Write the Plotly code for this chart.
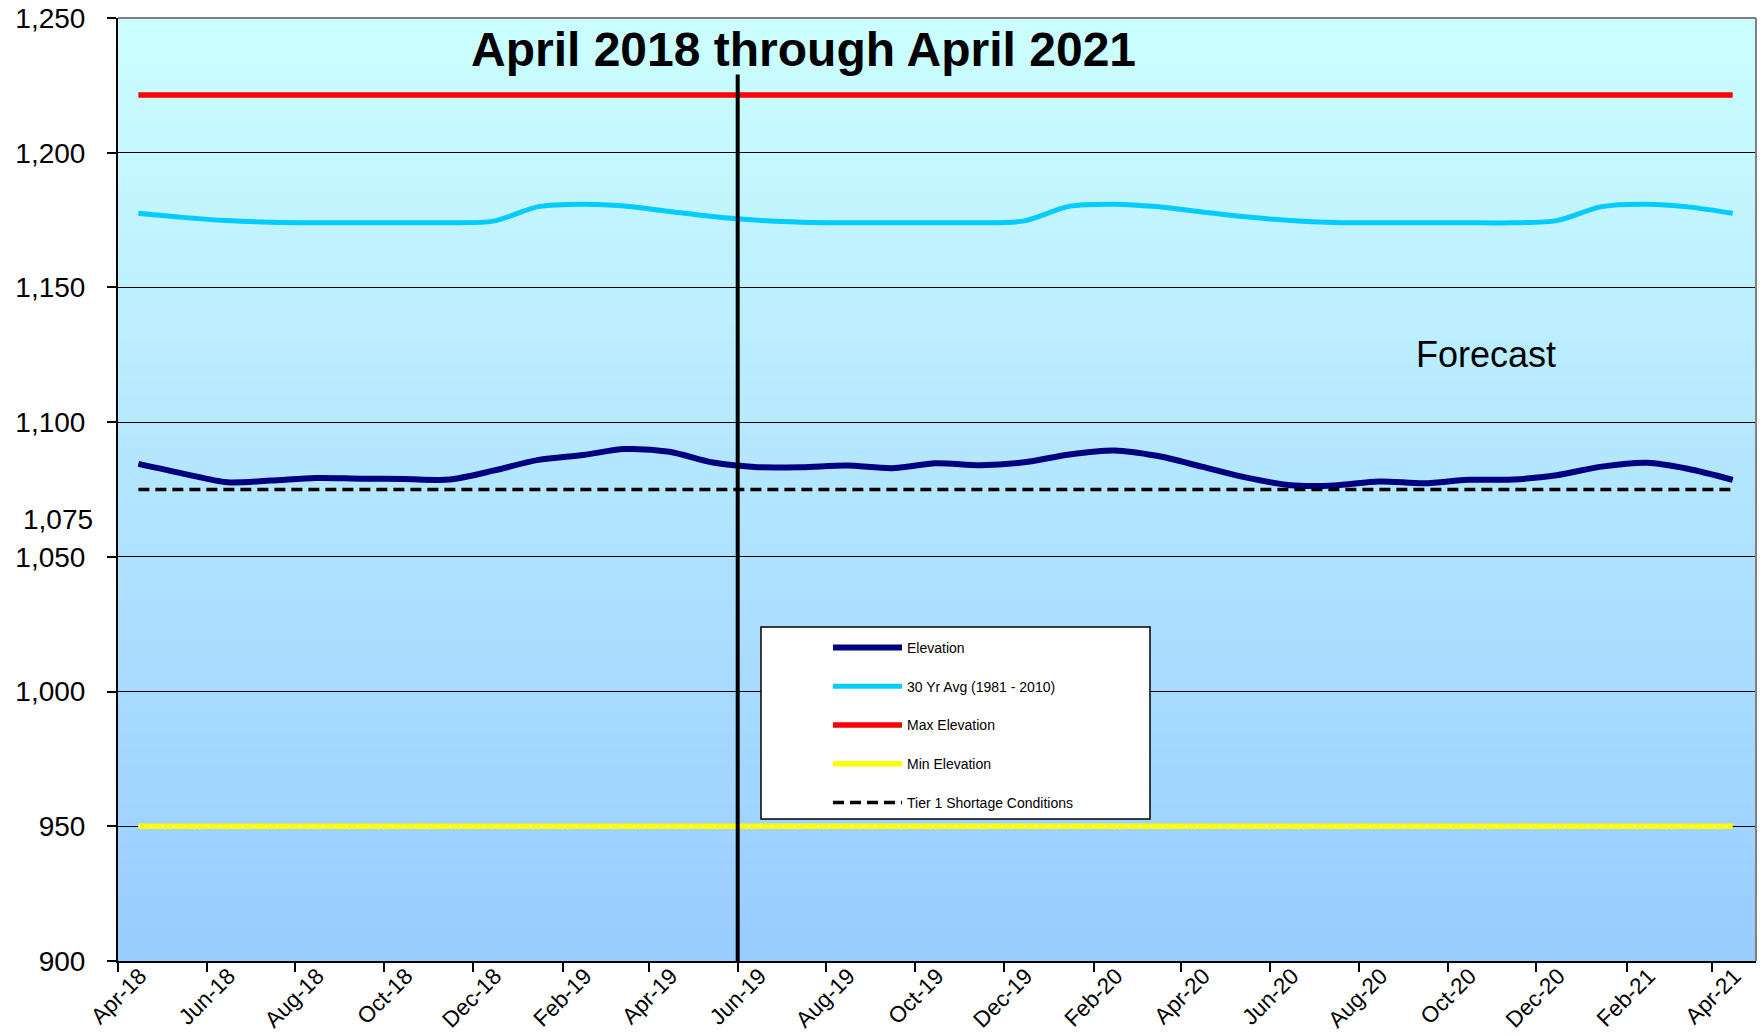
import plotly.graph_objects as go

# ---------------- data ----------------
months = [
    "2018-04-15", "2018-05-15", "2018-06-15", "2018-07-15", "2018-08-15", "2018-09-15",
    "2018-10-15", "2018-11-15", "2018-12-15", "2019-01-15", "2019-02-15", "2019-03-15",
    "2019-04-15", "2019-05-15", "2019-06-15", "2019-07-15", "2019-08-15", "2019-09-15",
    "2019-10-15", "2019-11-15", "2019-12-15", "2020-01-15", "2020-02-15", "2020-03-15",
    "2020-04-15", "2020-05-15", "2020-06-15", "2020-07-15", "2020-08-15", "2020-09-15",
    "2020-10-15", "2020-11-15", "2020-12-15", "2021-01-15", "2021-02-15", "2021-03-15",
    "2021-04-15",
]

elevation = [
    1084.5, 1081.0, 1077.7, 1078.3, 1079.3, 1079.0, 1078.9, 1078.7, 1082.0, 1086.0,
    1087.8, 1090.0, 1089.0, 1085.0, 1083.3, 1083.3, 1083.9, 1082.9, 1084.7, 1084.0,
    1085.1, 1088.0, 1089.5, 1087.5, 1083.5, 1079.5, 1076.6, 1076.5, 1078.0, 1077.3,
    1078.6, 1078.7, 1080.3, 1083.5, 1084.9, 1082.7, 1078.6,
]

avg_30yr = [
    1177.5, 1176.0, 1174.8, 1174.2, 1174.0, 1174.0, 1174.0, 1174.0, 1174.6, 1180.0,
    1180.9, 1180.2, 1178.2, 1176.3, 1174.9, 1174.2, 1174.0, 1174.0, 1174.0, 1174.0,
    1174.7, 1180.1, 1180.9, 1180.0, 1178.0, 1176.2, 1174.8, 1174.1, 1174.0, 1174.0,
    1174.0, 1174.0, 1174.8, 1180.0, 1180.9, 1179.9, 1177.5,
]

max_elevation = 1221.4
min_elevation = 950
tier1_shortage = 1075

divider_date = "2019-06-01"
divider_range = [900, 1229]

y_tick_vals = [900, 950, 1000, 1050, 1100, 1150, 1200, 1250]
y_tick_text = ["900", "950", "1,000", "1,050", "1,100", "1,150", "1,200", "1,250"]
extra_label_value = 1064
extra_label_text = "1,075"

title_text = "April 2018 through April 2021"
forecast_text = "Forecast"

# ---------------- styling ----------------
FONT = "Liberation Sans, Arial, sans-serif"
W, H = 1762, 1036
ML, MR, MT, MB = 118, 6, 18, 75

fig = go.Figure()

fig.add_trace(go.Scatter(
    x=months, y=elevation, mode="lines", name="Elevation",
    line=dict(color="#000080", width=6, shape="spline", smoothing=0.8),
    legendgroup="g1",
))
fig.add_trace(go.Scatter(
    x=months, y=avg_30yr, mode="lines", name="30 Yr Avg (1981 - 2010)",
    line=dict(color="#00CCFF", width=5, shape="spline", smoothing=0.8),
    legendgroup="g2",
))
fig.add_trace(go.Scatter(
    x=months, y=[max_elevation] * len(months), mode="lines", name="Max Elevation",
    line=dict(color="#FF0000", width=5.5),
    legendgroup="g3",
))
fig.add_trace(go.Scatter(
    x=months, y=[min_elevation] * len(months), mode="lines", name="Min Elevation",
    line=dict(color="#FFFF00", width=5.5),
    legendgroup="g4",
))
fig.add_trace(go.Scatter(
    x=months, y=[min_elevation] * len(months), mode="lines", showlegend=False,
    line=dict(color="#FFFFE0", width=1.5, dash="2px,9.5px"),
    legendgroup="g4", hoverinfo="skip",
))
fig.add_trace(go.Scatter(
    x=months, y=[tier1_shortage] * len(months), mode="lines",
    name="Tier 1 Shortage Conditions",
    line=dict(color="#000000", width=3.5, dash="11px,6px"),
    legendgroup="g5",
))
fig.add_trace(go.Scatter(
    x=[divider_date, divider_date], y=divider_range, mode="lines", showlegend=False,
    line=dict(color="#000000", width=4), hoverinfo="skip",
))

# gradient background (decorative)
shapes = []
n = 120
top = (204, 255, 255)
bot = (153, 204, 255)
for k in range(n):
    t = (k + 0.5) / n
    c = tuple(round(top[j] + (bot[j] - top[j]) * t) for j in range(3))
    shapes.append(dict(
        type="rect", xref="x domain", yref="y domain",
        x0=0, x1=1, y0=1 - (k + 1) / n - 0.001, y1=1 - k / n,
        fillcolor="rgb(%d,%d,%d)" % c, line=dict(width=0), layer="below",
    ))
# top/right gray border
shapes.append(dict(type="line", xref="x domain", yref="y domain", x0=0, x1=1, y0=1, y1=1,
                   line=dict(color="#808080", width=2), layer="above"))
shapes.append(dict(type="line", xref="x domain", yref="y domain", x0=1, x1=1, y0=0, y1=1,
                   line=dict(color="#808080", width=2), layer="above"))
# legend box
pw = W - ML - MR
ph = H - MT - MB
def px_x(p):
    return (p - ML) / pw
def px_y(p):
    return (H - MB - p) / ph
shapes.append(dict(type="rect", xref="paper", yref="paper",
                   x0=px_x(761), x1=px_x(1150), y0=px_y(819), y1=px_y(627),
                   fillcolor="white", line=dict(color="black", width=1.5), layer="above"))

annotations = [
    dict(text="<b>%s</b>" % title_text, xref="paper", yref="paper",
         x=px_x(803), y=px_y(49), xanchor="center", yanchor="middle", showarrow=False,
         font=dict(family=FONT, size=48, color="black")),
    dict(text=forecast_text, xref="paper", yref="paper",
         x=px_x(1486), y=px_y(354), xanchor="center", yanchor="middle", showarrow=False,
         font=dict(family=FONT, size=36, color="black")),
    dict(text=extra_label_text, xref="paper", yref="y",
         x=px_x(95), y=extra_label_value, xanchor="right", yanchor="middle", showarrow=False,
         font=dict(family=FONT, size=28, color="black")),
]

fig.update_layout(
    width=W, height=H,
    margin=dict(l=ML, r=MR, t=MT, b=MB, autoexpand=False),
    paper_bgcolor="white",
    plot_bgcolor="#B3E5FF",
    shapes=shapes,
    annotations=annotations,
    showlegend=True,
    legend=dict(
        x=px_x(828), y=px_y(632), xanchor="left", yanchor="top",
        bgcolor="rgba(0,0,0,0)", borderwidth=0,
        font=dict(family=FONT, size=14, color="black"),
        tracegroupgap=17.5, itemwidth=69, traceorder="grouped",
    ),
    xaxis=dict(
        type="date", range=["2018-04-01", "2021-05-01"], automargin=False,
        tick0="2018-04-01", dtick="M2", tickformat="%b-%y",
        tickangle=-45, ticks="outside", ticklen=9, tickwidth=2, tickcolor="black",
        ticklabelshift=22, ticklabelstandoff=-18,
        tickfont=dict(family=FONT, size=22.5, color="black"),
        showline=True, linecolor="black", linewidth=2,
        showgrid=False, zeroline=False,
    ),
    yaxis=dict(
        range=[900, 1250], tickmode="array", tickvals=y_tick_vals, ticktext=y_tick_text,
        automargin=False,
        ticks="outside", ticklen=9, tickwidth=2, tickcolor="black",
        ticklabelstandoff=16,
        tickfont=dict(family=FONT, size=28, color="black"),
        showline=True, linecolor="black", linewidth=2,
        showgrid=True, gridcolor="black", gridwidth=1.2, zeroline=False,
    ),
)

fig.write_html(
    "out.html",
    config={"displayModeBar": False},
    post_script="document.body.style.margin='0';document.body.style.overflow='hidden';",
)
